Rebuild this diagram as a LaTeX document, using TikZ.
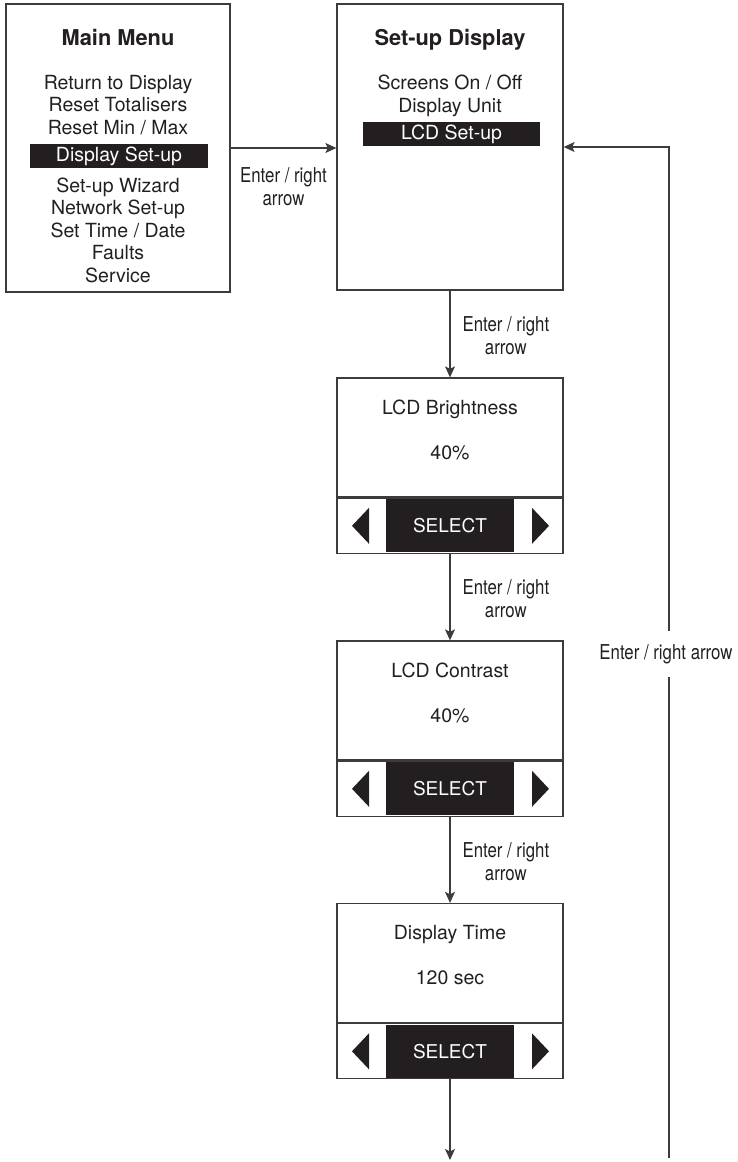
\documentclass[tikz,border=0pt]{standalone}
\usepackage{fontspec}
\setmainfont{TeX Gyre Heros}
\newfontfamily\cnd[FakeStretch=0.82]{TeX Gyre Heros}
\usetikzlibrary{arrows.meta,positioning,calc}
\definecolor{ink}{HTML}{231F20}
\definecolor{edge}{HTML}{3C3C3C}
\tikzset{box/.style={draw=edge,line width=1.3pt,minimum width=226pt,inner sep=0pt},
 pan/.style={box,minimum height=119pt},bar/.style={box,minimum height=55pt},
 hl/.style={fill=ink,text=white,inner sep=0pt,minimum height=24pt,font=\fontsize{19.5}{22.5}\selectfont},
 sel/.style={fill=ink,text=white,minimum width=128pt,minimum height=53pt,inner sep=0pt,font=\fontsize{19}{22}\selectfont},
 txt/.style={text=ink,align=center,inner sep=0pt,font=\fontsize{19.5}{22.5}\selectfont},
 ttl/.style={text=ink,inner sep=0pt,anchor=base,font=\fontsize{21.8}{24}\selectfont\bfseries},
 lbl/.style={text=ink,align=center,inner sep=2pt,yshift=-2pt,font=\cnd\fontsize{20.5}{23}\selectfont},
 flow/.style={-{Stealth[length=11pt,width=10pt,inset=2.5pt]},draw=edge,line width=1.1pt},
 wire/.style={draw=edge,line width=1.1pt}}
\begin{document}
\begin{tikzpicture}[x=1pt,y=-1pt]
\useasboundingbox (0,0) rectangle (737,1162);
% main menu
\node[box,minimum width=224pt,minimum height=288pt](main) at (118,148){};
\node[ttl](mt) at (118,45){Main Menu};
\node[txt](m1) at (118,105){Return to Display\\Reset Totalisers\\Reset Min / Max};
\node[hl,minimum width=178pt](mh) at (119,156){Display Set-up};
\node[txt](m2) at (118,230){Set-up Wizard\\Network Set-up\\Set Time / Date\\Faults\\Service};
% set-up display
\node[box,minimum height=286pt](setup) at (450,147){};
\node[ttl](st) at (450,45){Set-up Display};
\node[txt](s0) at (450,96){Screens On / Off\\Display Unit};
\node[hl,minimum width=177pt](sh) at (451.5,134){LCD Set-up};
% value screens
\foreach \i/\t/\v/\y in {1/LCD Brightness/40\%/437.5,2/LCD Contrast/40\%/700.5,3/Display Time/120 sec/963}{
 \node[pan](p\i) at (450,\y){};
 \node[bar,anchor=north](b\i) at (p\i.south){};
 \node[sel](s\i) at (b\i.center){SELECT};
 \fill[ink]([xshift=-98pt]s\i.center)--([xshift=-81pt,yshift=18pt]s\i.center)--([xshift=-81pt,yshift=-18pt]s\i.center)--cycle;
 \fill[ink]([xshift=99pt]s\i.center)--([xshift=82pt,yshift=18pt]s\i.center)--([xshift=82pt,yshift=-18pt]s\i.center)--cycle;
 \node[txt,anchor=base](t\i) at ([yshift=-37pt]p\i.north){\t};
 \node[txt,anchor=base](v\i) at ([yshift=-82pt]p\i.north){\v};
}
\coordinate(end) at (450,1160);\coordinate(rb) at (669,1158);
\draw[flow](main.east)--(main.east-|setup.west) node[lbl,midway,below=15pt]{Enter / right\\arrow};
\draw[flow](setup)--(p1) node[lbl,midway,right=10pt]{Enter / right\\arrow};
\draw[flow](b1)--(p2) node[lbl,midway,right=10pt]{Enter / right\\arrow};
\draw[flow](b2)--(p3) node[lbl,midway,right=10pt]{Enter / right\\arrow};
\draw[flow](b3)--(end);
% return path
\node[lbl,minimum height=46pt](rl) at (666,652){Enter / right arrow};
\draw[wire](rb)--(rb|-rl.south);
\draw[flow](rb|-rl.north)|-(setup.east);
\end{tikzpicture}
\end{document}
